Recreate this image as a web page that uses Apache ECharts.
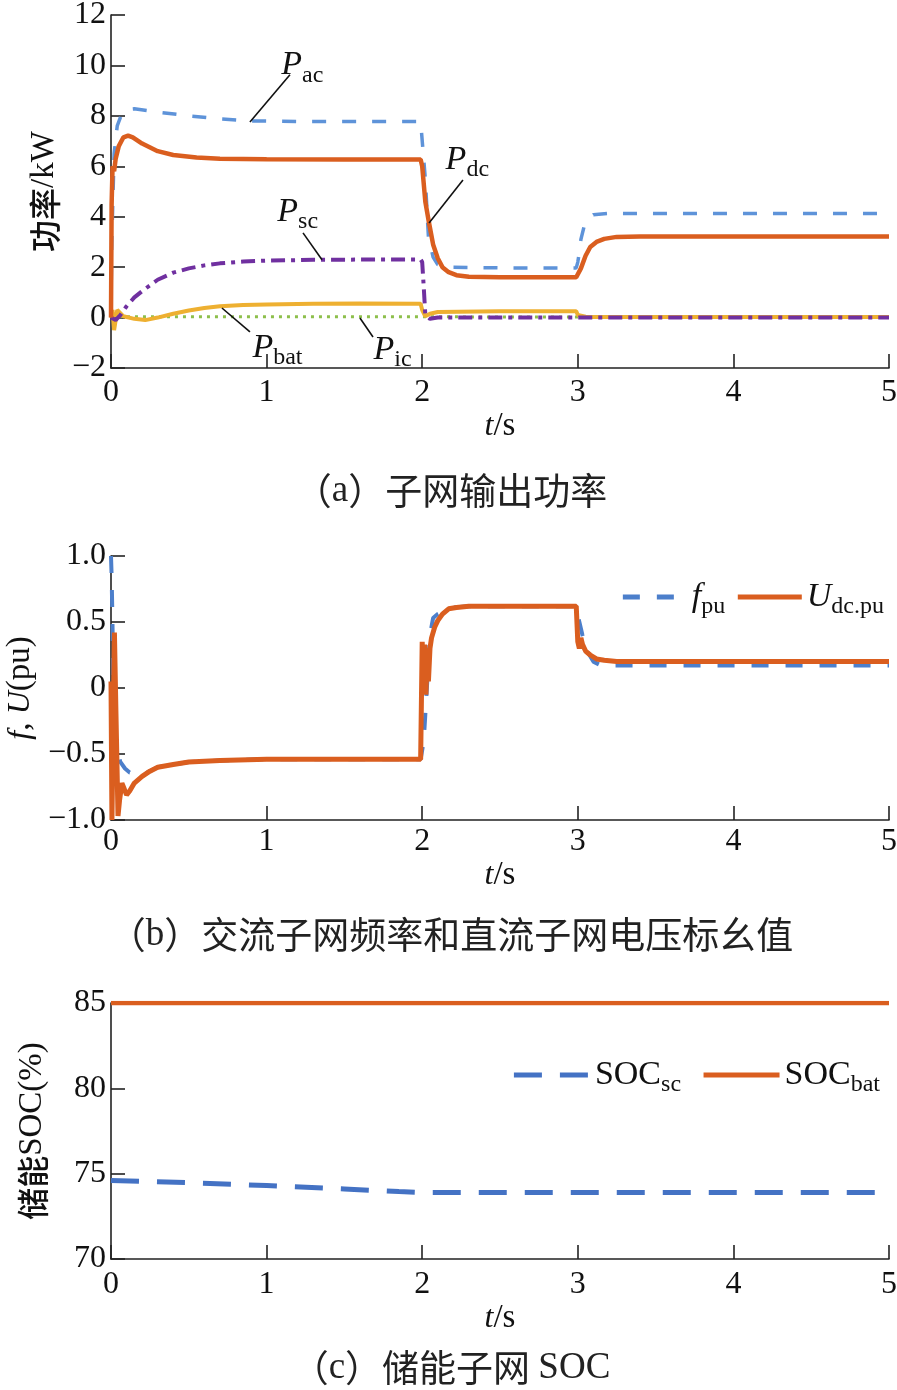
<!DOCTYPE html>
<html><head><meta charset="utf-8">
<script src="https://cdn.jsdelivr.net/npm/echarts@6/dist/echarts.min.js"></script>
<style>html,body{margin:0;padding:0;background:#fff}#c{width:897px;height:1390px}</style>
</head><body><div id="c"></div>
<script>
// ---------- data (a) 子网输出功率 ----------
const pacT = [0, 0.005, 0.02, 0.04, 0.07, 0.1, 0.15, 0.3, 0.5, 0.7, 0.9, 1.2, 1.5, 1.99, 2.0, 2.02, 2.04, 2.07, 2.1, 2.15, 2.5, 2.99, 3.0, 3.01, 3.02, 3.04, 3.07, 3.1, 3.2, 4, 5];
const pacV = [0.3, 3.0, 6.5, 7.6, 8.1, 8.25, 8.28, 8.15, 8.0, 7.88, 7.8, 7.78, 7.78, 7.78, 7.78, 5.5, 3.2, 2.4, 2.1, 2.0, 1.97, 1.97, 2.2, 2.6, 3.1, 3.6, 3.95, 4.08, 4.13, 4.13, 4.13];
const pdcT = [0, 0.004, 0.01, 0.02, 0.03, 0.05, 0.08, 0.11, 0.14, 0.2, 0.3, 0.4, 0.55, 0.7, 1.0, 1.5, 1.99, 2.0, 2.02, 2.044, 2.07, 2.1, 2.13, 2.17, 2.22, 2.3, 2.5, 2.99, 3.0, 3.02, 3.05, 3.08, 3.12, 3.17, 3.25, 3.4, 4, 5];
const pdcV = [0, 4.5, 6.0, 5.8, 6.3, 6.8, 7.15, 7.22, 7.15, 6.9, 6.6, 6.45, 6.35, 6.3, 6.28, 6.27, 6.27, 6.0, 4.6, 3.75, 2.9, 2.35, 2.0, 1.8, 1.68, 1.62, 1.6, 1.6, 1.65, 1.95, 2.45, 2.8, 3.0, 3.12, 3.2, 3.22, 3.22, 3.22];
const pscT = [0, 0.03, 0.06, 0.1, 0.15, 0.2, 0.3, 0.4, 0.5, 0.6, 0.7, 0.85, 1.0, 1.3, 1.6, 1.99, 2.0, 2.01, 2.02, 2.05, 2.1, 3, 4, 5];
const pscV = [0, -0.1, 0.1, 0.45, 0.8, 1.05, 1.5, 1.78, 1.95, 2.07, 2.15, 2.22, 2.26, 2.29, 2.3, 2.3, 2.2, 1.2, 0.1, -0.05, 0.0, 0.0, 0.0, 0.0];
const pbatT = [0, 0.01, 0.02, 0.04, 0.08, 0.15, 0.22, 0.3, 0.4, 0.5, 0.6, 0.7, 0.85, 1.0, 1.3, 1.6, 1.99, 2.0, 2.02, 2.05, 2.1, 2.5, 2.99, 3.0, 3.05, 3.1, 4, 5];
const pbatV = [0, 0.3, -0.5, 0.3, 0.05, -0.05, -0.1, 0.0, 0.15, 0.28, 0.38, 0.45, 0.5, 0.52, 0.55, 0.56, 0.55, 0.3, 0.05, 0.15, 0.22, 0.25, 0.25, 0.1, 0.03, 0.02, 0.02, 0.02];
const picT = [0, 0.05, 1, 2, 3, 4, 5];
const picV = [0, 0.03, 0.03, 0.03, 0.02, 0.02, 0.02];

// ---------- data (b) 频率 / 电压标幺值 ----------
const fpuT = [0, 0.004, 0.008, 0.012, 0.02, 0.035, 0.06, 0.09, 0.12, 0.2, 0.3, 0.4, 0.5, 0.7, 1.0, 1.5, 1.99, 2.0, 2.01, 2.02, 2.035, 2.05, 2.07, 2.1, 2.15, 2.2, 2.3, 2.5, 2.99, 3.0, 3.03, 3.06, 3.1, 3.15, 3.2, 4, 5];
const fpuV = [1.0, 0.85, 0.6, 0.3, -0.1, -0.45, -0.56, -0.61, -0.64, -0.66, -0.6, -0.58, -0.56, -0.55, -0.54, -0.54, -0.54, -0.53, -0.4, -0.2, 0.1, 0.4, 0.53, 0.56, 0.59, 0.61, 0.62, 0.62, 0.62, 0.55, 0.4, 0.28, 0.2, 0.17, 0.17, 0.17, 0.17];
const udcT = [0, 0.006, 0.014, 0.022, 0.032, 0.045, 0.055, 0.07, 0.08, 0.1, 0.12, 0.15, 0.2, 0.25, 0.3, 0.4, 0.5, 0.7, 1.0, 1.5, 1.99, 2.0, 2.008, 2.016, 2.024, 2.032, 2.04, 2.05, 2.06, 2.08, 2.1, 2.13, 2.17, 2.22, 2.3, 2.5, 2.99, 3.0, 3.01, 3.02, 3.03, 3.05, 3.08, 3.12, 3.17, 3.25, 4, 5];
const udcV = [0.05, -1.0, -0.3, 0.42, -0.2, -0.97, -0.85, -0.72, -0.75, -0.81, -0.78, -0.72, -0.67, -0.63, -0.6, -0.58, -0.56, -0.55, -0.54, -0.54, -0.54, 0.35, 0.0, 0.33, -0.05, 0.3, 0.05, 0.3, 0.38, 0.46, 0.51, 0.56, 0.6, 0.61, 0.62, 0.62, 0.62, 0.35, 0.3, 0.38, 0.33, 0.28, 0.25, 0.22, 0.21, 0.2, 0.2, 0.2];

// ---------- data (c) 储能 SOC ----------
const socScT = [0, 0.5, 1, 1.5, 1.85, 2, 3, 4, 5];
const socScV = [74.6, 74.47, 74.3, 74.1, 73.95, 73.9, 73.9, 73.9, 73.9];
const socBatT = [0, 5];
const socBatV = [85, 85];

// ---------- axis ranges ----------
const xRange = {min: 0, max: 5, interval: 1};
const yRangeA = {min: -2, max: 12, interval: 2};
const yRangeB = {min: -1, max: 1, interval: 0.5};
const yRangeC = {min: 70, max: 85, interval: 5};

// ---------- texts ----------
const captions = [
  '{c|（}{l|a}{c|）子网输出功率}',
  '{c|（}{l|b}{c|）交流子网频率和直流子网电压标幺值}',
  '{c|（}{l|c}{c|）储能子网 }{l|SOC}'
];
const seriesLabels = {
  pac: '{i|P}{s|ac}', pdc: '{i|P}{s|dc}', psc: '{i|P}{s|sc}', pbat: '{i|P}{s|bat}', pic: '{i|P}{s|ic}',
  fpu: '{i|f}{s|pu}', udc: '{i|U}{s|dc.pu}', socsc: '{n|SOC}{s|sc}', socbat: '{n|SOC}{s|bat}'
};
// annotation label anchor and leader line (data coordinates)
const annotations = {
  pac:  {label: [1.23, 10.0], line: [[1.15, 9.63], [0.893, 7.76]]},
  pdc:  {label: [2.29, 6.25], line: [[2.262, 5.46], [2.044, 3.75]]},
  psc:  {label: [1.2, 4.2],   line: [[1.234, 3.36], [1.356, 2.29]]},
  pbat: {label: [1.07, -1.2], line: [[0.893, -0.57], [0.713, 0.38]]},
  pic:  {label: [1.81, -1.28], line: [[1.684, -0.77], [1.6, -0.02]]}
};

const SERIF = "'Liberation Serif','Times New Roman',serif";
const CJK = "'Noto Sans CJK SC','Noto Sans CJK',sans-serif";
const INK = '#111';
const zip = (t, v) => t.map((x, i) => [x, v[i]]);

const richSub = {
  i: {fontFamily: SERIF, fontStyle: 'italic', fontSize: 34, lineHeight: 36, color: INK},
  n: {fontFamily: SERIF, fontSize: 34, lineHeight: 36, color: INK},
  s: {fontFamily: SERIF, fontSize: 24, lineHeight: 24, padding: [20, 0, 0, 0], color: INK}
};
const richAxisName = {
  i: {fontFamily: SERIF, fontStyle: 'italic', fontSize: 32, color: INK},
  n: {fontFamily: SERIF, fontSize: 33, color: INK},
  c: {fontFamily: CJK, fontSize: 32, fontWeight: 500, color: INK}
};
const richCaption = {
  c: {fontFamily: CJK, fontSize: 37, lineHeight: 42, fontWeight: 'normal', color: '#222'},
  l: {fontFamily: SERIF, fontSize: 37, lineHeight: 42, fontWeight: 'normal', color: '#222'}
};

const minus = s => String(s).replace('-', '\u2212');
const grids = [
  {left: 111, top: 15, width: 778, height: 353},
  {left: 111, top: 556, width: 778, height: 264},
  {left: 111, top: 1003, width: 778, height: 256}
].map(g => Object.assign(g, {outerBoundsMode: 'none', containLabel: false}));

const axisLine = {show: true, onZero: false, lineStyle: {color: '#222', width: 1.6}};
const axisTick = {show: true, inside: true, length: 14, lineStyle: {color: '#222', width: 1.6}};

function xAx(gi, nameGap, margin) {
  return Object.assign({
    type: 'value', gridIndex: gi, axisLine, axisTick, splitLine: {show: false},
    axisLabel: {fontFamily: SERIF, fontSize: 32, color: INK, margin},
    name: '{i|t}{n|/s}', nameLocation: 'middle', nameGap,
    nameTextStyle: {rich: richAxisName}
  }, xRange);
}
function yAx(gi, range, name, nameGap, fmt) {
  return Object.assign({
    type: 'value', gridIndex: gi, axisLine, axisTick, splitLine: {show: false},
    axisLabel: {fontFamily: SERIF, fontSize: 32, color: INK, margin: 5, formatter: fmt},
    name, nameLocation: 'middle', nameGap, nameRotate: 90,
    nameTextStyle: {rich: richAxisName}
  }, range);
}

function annot(key) {
  const a = annotations[key];
  return {
    markPoint: {
      silent: true, symbol: 'circle', symbolSize: 1, itemStyle: {color: 'rgba(0,0,0,0)'},
      label: {show: true, position: 'inside', formatter: seriesLabels[key], rich: richSub},
      data: [{coord: a.label}]
    },
    markLine: {
      silent: true, symbol: ['none', 'none'], label: {show: false},
      lineStyle: {color: INK, width: 1.6, type: 'solid'},
      data: [[{coord: a.line[0]}, {coord: a.line[1]}]]
    }
  };
}

function line(name, gi, data, color, width, type, extra) {
  return Object.assign({
    name, type: 'line', xAxisIndex: gi, yAxisIndex: gi, data,
    symbol: 'none', smooth: false, animation: false,
    lineStyle: {color, width, type}, itemStyle: {color}
  }, extra || {});
}

const ORANGE = '#DA5E1F';
const legendCommon = {
  orient: 'horizontal', itemHeight: 14, selectedMode: false,
  formatter: n => seriesLabels[n], textStyle: {rich: richSub},
  lineStyle: {width: 5}, itemStyle: {color: 'rgba(0,0,0,0)', borderWidth: 0, opacity: 0}
};
const option = {
  animation: false,
  backgroundColor: '#fff',
  grid: grids,
  title: captions.map((t, i) => ({
    text: t, left: 446, textAlign: 'center', top: [465, 909, 1342][i],
    textStyle: {rich: richCaption, fontSize: 37, fontWeight: 'normal'}
  })),
  legend: [
    Object.assign({data: ['fpu', 'udc'], right: 8, top: 570, itemWidth: 64, itemGap: 10}, legendCommon),
    Object.assign({data: ['socsc', 'socbat'], right: 12, top: 1048, itemWidth: 76, itemGap: 20}, legendCommon)
  ],
  xAxis: [xAx(0, 36, 9), xAx(1, 32, 6), xAx(2, 38, 10)],
  yAxis: [
    yAx(0, yRangeA, '{c|功率}{n|/kW}', 49, v => minus(v)),
    yAx(1, yRangeB, '{i|f}{n|, }{i|U}{n|(pu)}', 64, v => v === 0 ? '0' : minus(v.toFixed(1))),
    yAx(2, yRangeC, '{c|储能}{n|SOC(%)}', 62, v => String(v))
  ],
  series: [
    line('pic', 0, zip(picT, picV), '#8DBF4B', 3, [3, 5], annot('pic')),
    line('pbat', 0, zip(pbatT, pbatV), '#EEB031', 4, 'solid', annot('pbat')),
    line('psc', 0, zip(pscT, pscV), '#7030A0', 4, [14, 6, 4, 6], annot('psc')),
    line('pac', 0, zip(pacT, pacV), '#5E93D9', 3.5, [14, 16], annot('pac')),
    line('pdc', 0, zip(pdcT, pdcV), ORANGE, 4.5, 'solid', annot('pdc')),
    line('fpu', 1, zip(fpuT, fpuV), '#4C7FCB', 4, [17, 17]),
    line('udc', 1, zip(udcT, udcV), ORANGE, 5, 'solid'),
    line('socsc', 2, zip(socScT, socScV), '#4472C4', 5, [28, 18]),
    line('socbat', 2, zip(socBatT, socBatV), ORANGE, 4.5, 'solid')
  ]
};

const chart = echarts.init(document.getElementById('c'), null, {renderer: 'canvas'});
chart.setOption(option);
</script>
</body></html>
